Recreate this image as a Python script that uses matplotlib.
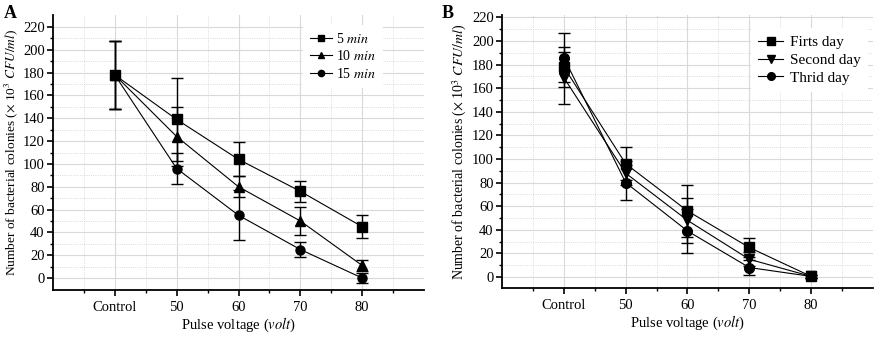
import matplotlib
matplotlib.use("Agg")
import matplotlib.pyplot as plt
from matplotlib.ticker import FixedLocator
from matplotlib.lines import Line2D
import numpy as np

plt.rcParams['font.family'] = ['Liberation Serif', 'DejaVu Serif']
plt.rcParams['mathtext.fontset'] = 'stix'

categories = ["Control", "50", "60", "70", "80"]

# Panel A
labels_a = ["5 $\\mathit{min}$", "10 $\\mathit{min}$", "15 $\\mathit{min}$"]
a_5 = [178, 139, 104, 76, 45]
a_5_err = [30, 36, 15, 9, 10]
a_10 = [178, 124, 80, 50, 11]
a_10_err = [30, 26, 9, 12, 5]
a_15 = [178, 96, 55, 25, 0]
a_15_err = [30, 14, 22, 7, 4]

# Panel B
labels_b = ["Firts day", "Second day", "Thrid day"]
b_1 = [178, 96, 56, 25, 0.5]
b_1_err = [17, 14, 22, 8, 1]
b_2 = [169, 88, 48, 15, 0.5]
b_2_err = [22, 10, 19, 6, 1]
b_3 = [186, 80, 39, 8, 0.5]
b_3_err = [21, 15, 19, 6, 1]

fig = plt.figure(figsize=(8.77, 3.42), dpi=100)
axA = fig.add_axes([0.0604, 0.152, 0.4231, 0.804])
axB = fig.add_axes([0.5724, 0.158, 0.4230, 0.798])

ylabel = "Number of bacterial colonies ($\\times$ 10$^3$ $\\mathit{CFU/ml}$)"
xlabel = "Pulse voltage ($\\mathit{volt}$)"

def setup(ax, ylim, yfs):
    ax.set_xlim(-1, 5)
    ax.set_ylim(*ylim)
    ax.set_xticks(range(0, 5))
    ax.set_xticklabels(categories)
    ax.xaxis.set_minor_locator(FixedLocator([-0.5, 0.5, 1.5, 2.5, 3.5, 4.5]))
    ax.yaxis.set_major_locator(FixedLocator(range(0, 221, 20)))
    ax.yaxis.set_minor_locator(FixedLocator(range(10, 221, 20)))
    ax.grid(which='major', color='#d9d9d9', linewidth=0.8, linestyle='-')
    ax.grid(which='minor', color='#cfcfcf', linewidth=0.6, linestyle=':')
    ax.set_axisbelow(True)
    for s in ['top', 'right']:
        ax.spines[s].set_visible(False)
    for s in ['left', 'bottom']:
        ax.spines[s].set_linewidth(1.3)
    ax.tick_params(which='major', direction='out', length=4, width=1.2, labelsize=10.5, pad=2)
    ax.tick_params(which='minor', direction='out', length=2.5, width=1.0)
    ax.tick_params(axis='x', which='major', pad=4)
    ax.set_xlabel(xlabel, fontsize=10.5, labelpad=1)
    ax.set_ylabel(ylabel, fontsize=yfs, labelpad=2)

x = np.arange(len(categories))

def legend(ax, markers, labels, anchor, fs, ms, tpad):
    handles = [Line2D([], [], color='black', marker=m, markersize=ms, linewidth=0.8)
               for m in markers]
    leg = ax.legend(handles, labels, loc='upper left', bbox_to_anchor=anchor, frameon=True,
                    fontsize=fs, handlelength=1.6, handletextpad=tpad, labelspacing=0.25,
                    borderpad=0.5)
    leg.get_frame().set_edgecolor('none')
    leg.get_frame().set_facecolor('white')
    leg.get_frame().set_alpha(1)
    return leg

setup(axA, (-10.5, 230.5), 9.6)
for vals, errs, m in [(a_5, a_5_err, 's'), (a_10, a_10_err, '^'), (a_15, a_15_err, 'o')]:
    axA.errorbar(x, vals, yerr=errs, color='black', marker=m, markersize=6.5,
                 linewidth=0.8, elinewidth=1.0, capsize=4, capthick=1.0)
legend(axA, ['s', '^', 'o'], labels_a, (0.655, 0.99), 10, 4.5, 0.3)

setup(axB, (-9.3, 222), 10)
for vals, errs, m in [(b_1, b_1_err, 's'), (b_2, b_2_err, 'v'), (b_3, b_3_err, 'o')]:
    axB.errorbar(x, vals, yerr=errs, color='black', marker=m, markersize=7,
                 linewidth=0.8, elinewidth=1.0, capsize=4, capthick=1.0)
legend(axB, ['s', 'v', 'o'], labels_b, (0.65, 0.98), 11, 5.5, 0.45)

fig.text(0.004, 0.985, "A", fontsize=13, fontweight='bold', va='top', ha='left')
fig.text(0.504, 0.985, "B", fontsize=13, fontweight='bold', va='top', ha='left')

fig.savefig("out.png", dpi=100)
